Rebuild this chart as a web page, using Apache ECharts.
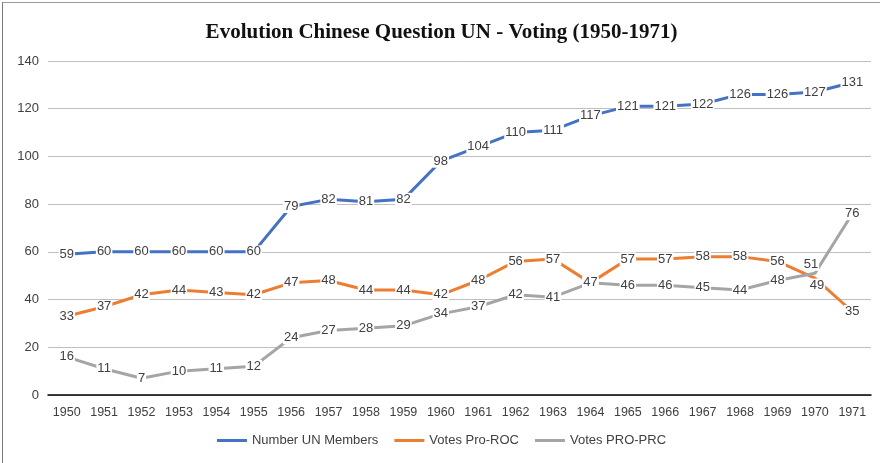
<!DOCTYPE html>
<html>
<head>
<meta charset="utf-8">
<script src="https://cdn.jsdelivr.net/npm/echarts@6/dist/echarts.min.js"></script>
<style>
  html, body { margin: 0; padding: 0; background: #fff; overflow: hidden; }
  #chart { position: absolute; left: 2px; top: 2px; width: 877px; height: 461px; border-left: 1px solid #777; border-top: 1px solid #999; }
</style>
</head>
<body>
<div id="chart"></div>
<script>
// data
var years = ['1950','1951','1952','1953','1954','1955','1956','1957','1958','1959','1960',
  '1961','1962','1963','1964','1965','1966','1967','1968','1969','1970','1971']
var unMembers = [59, 60, 60, 60, 60, 60, 79, 82, 81, 82, 98, 104, 110, 111, 117, 121, 121, 122, 126, 126, 127, 131]
var votesROC = [33, 37, 42, 44, 43, 42, 47, 48, 44, 44, 42, 48, 56, 57, 47, 57, 57, 58, 58, 56, 49, 35]
var votesPRC = [16, 11, 7, 10, 11, 12, 24, 27, 28, 29, 34, 37, 42, 41, 47, 46, 46, 45, 44, 48, 51, 76]

var font = '"Liberation Sans", Arial, sans-serif'

// a few labels sit off the point in the original, so they don't collide
function nudge(offsets) {
  return function (params) {
    var o = offsets[params.dataIndex]
    return o ? { dx: o[0], dy: o[1] } : {}
  }
}

function makeSeries(name, data, color, offsets) {
  return {
    name: name,
    type: 'line',
    data: data,
    symbol: 'circle',
    symbolSize: 0,
    showSymbol: true,
    lineStyle: { width: 3, color: color },
    itemStyle: { color: color },
    label: {
      show: true,
      position: 'inside',
      color: '#404040',
      fontSize: 13,
      fontFamily: font,
      backgroundColor: '#fff',
      padding: [0, 1]
    },
    labelLayout: nudge(offsets || {}),
    z: 3
  }
}

var chart = echarts.init(document.getElementById('chart'))
chart.setOption({
  animation: false,
  title: {
    text: 'Evolution Chinese Question UN - Voting (1950-1971)',
    left: 'center',
    top: 14,
    textStyle: { fontFamily: '"Liberation Serif", "Times New Roman", serif', fontWeight: 'bold', fontSize: 21, color: '#111' }
  },
  legend: {
    bottom: 12,
    left: 'center',
    itemWidth: 30,
    itemHeight: 3,
    itemGap: 16,
    icon: 'rect',
    textStyle: { fontFamily: font, fontSize: 13, color: '#404040' },
    data: ['Number UN Members', 'Votes Pro-ROC', 'Votes PRO-PRC']
  },
  grid: { left: 45, right: 9, top: 58, bottom: 69 },
  xAxis: {
    type: 'category',
    data: years,
    axisLine: { lineStyle: { color: '#000', width: 1.5 } },
    axisTick: { show: false },
    axisLabel: { interval: 0, color: '#404040', fontSize: 12.5, fontFamily: font, margin: 11 }
  },
  yAxis: {
    type: 'value',
    min: 0,
    max: 140,
    interval: 20,
    axisLine: { show: false },
    axisTick: { show: false },
    axisLabel: { color: '#404040', fontSize: 13, fontFamily: font, margin: 9 },
    splitLine: { lineStyle: { color: '#bfbfbf' } }
  },
  series: [
    makeSeries('Number UN Members', unMembers, '#4472C4'),
    makeSeries('Votes Pro-ROC', votesROC, '#ED7D31', { 20: [2, 7] }),
    makeSeries('Votes PRO-PRC', votesPRC, '#A5A5A5', { 20: [-4, -9] })
  ]
})
</script>
</body>
</html>
